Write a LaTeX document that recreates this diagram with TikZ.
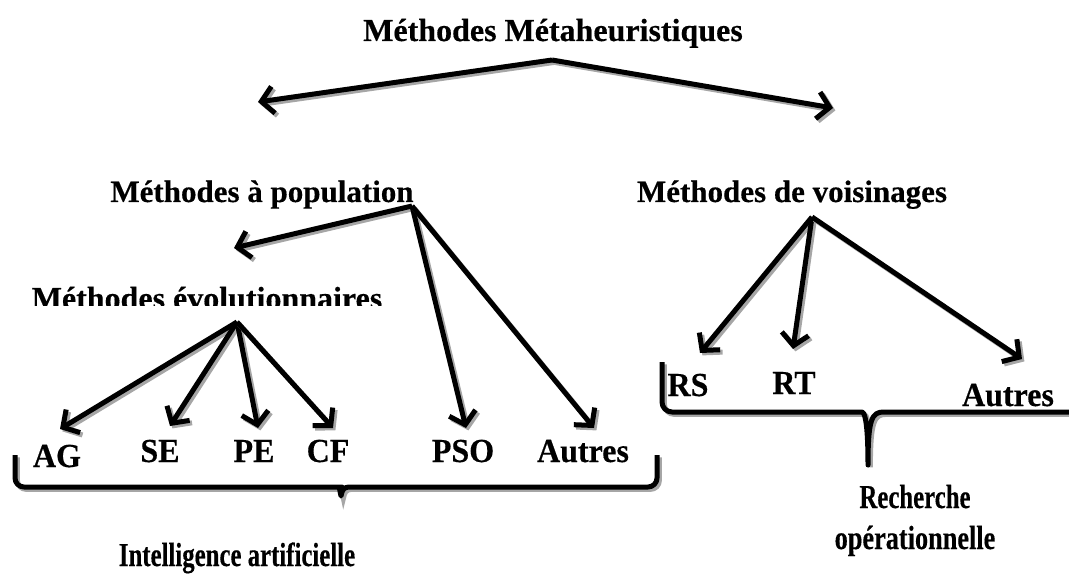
\documentclass[tikz,border=0pt]{standalone}
\usepackage{fontspec}
\setmainfont{Liberation Serif}[BoldFeatures={FakeBold=0.4}]
\usetikzlibrary{arrows.meta}

\tikzset{
  shadowed/.style={preaction={draw=black!35, line width=5pt,
      transform canvas={shift={(2.4,2.4)}}}},
  conn/.style={line width=5pt, shadowed,
      -{Straight Barb[length=12pt,width=27pt]}},
  bracket/.style={line width=5pt, shadowed, line join=round},
  ttl/.style={font=\bfseries\fontsize{32}{32}\selectfont, inner sep=0pt, anchor=base},
  head/.style={font=\bfseries\fontsize{31}{31}\selectfont, inner sep=0pt, anchor=base},
  leaf/.style={font=\bfseries\fontsize{32}{32}\selectfont, inner sep=0pt, anchor=base,
      yscale=1.05},
  group/.style={font=\bfseries\fontsize{31}{31}\selectfont, inner sep=0pt, anchor=base,
      xscale=0.8, yscale=1.08},
}

\begin{document}
\begin{tikzpicture}[x=1pt,y=-1pt]
\useasboundingbox (0,0) rectangle (1069,583);

% root and its two families
\node[ttl] (root) at (553,41) {Méthodes Métaheuristiques};
\coordinate (rootfork) at (552,60);
\node[head] (pop) at (262,202) {Méthodes à population};
\node[head] (vois) at (792,202) {Méthodes de voisinages};
\coordinate (popin) at (258,102);
\coordinate (voisin) at (833,108);
\draw[conn] (rootfork) -- (popin);
\draw[conn] (rootfork) -- (voisin);

% population-based methods
\coordinate (popfork) at (412,206);
\begin{scope}
  \clip (0,280) rectangle (1069,305);
  \node[head, font=\bfseries\fontsize{32}{32}\selectfont] (evo) at (207,309)
    {Méthodes évolutionnaires};
\end{scope}
\coordinate (evoin) at (234,248);
\draw[conn] (popfork) -- (evoin);

\node[leaf] (ag) at (57,467) {AG};
\node[leaf] (se) at (160,462) {SE};
\node[leaf] (pe) at (254,462) {PE};
\node[leaf] (cf) at (328,462) {CF};
\node[leaf] (pso) at (463,462) {PSO};
\node[leaf] (autA) at (583,462) {Autres};

\coordinate (evofork) at (237,322);
\coordinate (agin) at (60,429);
\coordinate (sein) at (170,426);
\coordinate (pein) at (258,428);
\coordinate (cfin) at (333,428);
\coordinate (psoin) at (466,428);
\coordinate (autAin) at (594,428);
\draw[conn] (evofork) -- (agin);
\draw[conn] (evofork) -- (sein);
\draw[conn] (evofork) -- (pein);
\draw[conn] (evofork) -- (cfin);
\draw[conn] (popfork) -- (psoin);
\draw[conn] (popfork) -- (autAin);

% neighbourhood methods
\coordinate (voisfork) at (812,217);
\node[leaf] (rs) at (688,396) {RS};
\node[leaf] (rt) at (794,394) {RT};
\node[leaf] (autB) at (1008,406) {Autres};
\coordinate (rsin) at (700,353);
\coordinate (rtin) at (793,349);
\coordinate (autBin) at (1022,359);
\draw[conn] (voisfork) -- (rsin);
\draw[conn] (voisfork) -- (rtin);
\draw[conn] (voisfork) -- (autBin);

% grouping braces
\draw[bracket] (15,455) [rounded corners=9pt] -- (15,487) -- (333,487)
  [sharp corners] .. controls (338,487) and (340,490) .. (341,496)
  .. controls (342,490) and (344,487) .. (349,487)
  [rounded corners=9pt] -- (657,487) -- (657,455);
\draw[bracket] (662,362) [rounded corners=10pt] -- (662,412) -- (852,412)
  [sharp corners] .. controls (864,412) and (868,418) .. (868,465)
  .. controls (868,418) and (872,412) .. (884,412) -- (1075,412);

\node[group] (ia) at (237,566) {Intelligence artificielle};
\node[group] (ro1) at (915,508) {Recherche};
\node[group, xscale=1.06] (ro2) at (915,549) {opérationnelle};
\end{tikzpicture}
\end{document}
